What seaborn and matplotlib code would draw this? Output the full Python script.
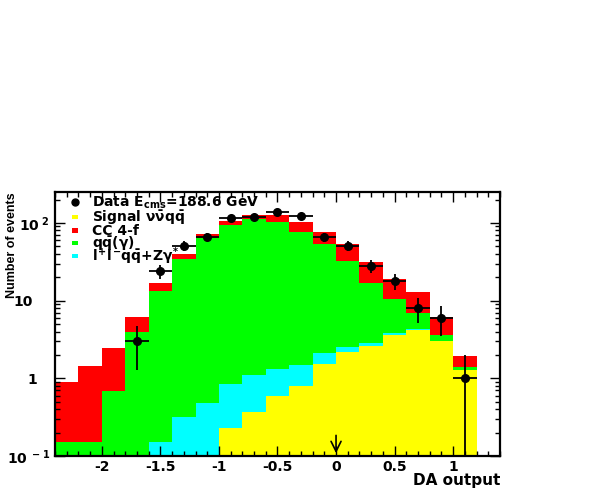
import numpy as np
import pandas as pd
import matplotlib
matplotlib.use("Agg")
import matplotlib.pyplot as plt
from matplotlib.patches import Rectangle
import seaborn as sns

# ---- data ----
bin_edges = [round(v, 2) for v in np.linspace(-2.4, 1.2, 19)]
bin_centers = [round((a + b) / 2, 2) for a, b in zip(bin_edges[:-1], bin_edges[1:])]

signal = [0, 0, 0, 0, 0, 0, 0, 0.227, 0.365, 0.59, 0.80, 1.54, 2.18, 2.61, 3.58, 4.19, 2.99, 1.27]
llqq = [0, 0, 0, 0, 0.15, 0.315, 0.477, 0.618, 0.735, 0.72, 0.68, 0.58, 0.35, 0.21, 0.22, 0.11, 0.01, 0.01]
qq = [0.15, 0.15, 0.69, 3.91, 13.05, 34.4, 64.0, 94.0, 109.9, 101.2, 75.6, 50.9, 29.8, 14.2, 6.7, 2.69, 0.6, 0.1]
cc4f = [0.75, 1.29, 1.79, 2.24, 3.5, 5.5, 7.4, 11.9, 16.6, 25.1, 26.5, 24.1, 21.7, 14.7, 8.3, 5.9, 2.55, 0.56]

data_x = [-1.7, -1.5, -1.3, -1.1, -0.9, -0.7, -0.5, -0.3, -0.1, 0.1, 0.3, 0.5, 0.7, 0.9, 1.1]
data_n = [3, 24, 51, 66, 116, 120, 139, 124, 65, 51, 28, 18, 8, 6, 1]

xtick_vals = [-2, -1.5, -1, -0.5, 0, 0.5, 1]
xtick_labels = ["-2", "-1.5", "-1", "-0.5", "0", "0.5", "1"]
ytick_vals = [0.1, 1, 10, 100]
ytick_labels = [r"10$^{\ -1}$", "1", "10", r"10$^{\ 2}$"]
ytick_pads = [3.5, 13, 16, 3.5]

legend_labels = [r"Data E$_{\rm cms}$=188.6 GeV", r"Signal $\nu\bar{\nu}q\bar{q}$", "CC 4-f",
                 r"$q\bar{q}(\gamma)$", r"$l^{+}l^{-}q\bar{q}$+Z$\gamma^{*}$"]
legend_keys = ["data", "signal", "cc", "qq", "llqq"]

colors = {"cc": "#ff0000", "qq": "#00ff00", "llqq": "#00ffff", "signal": "#ffff00"}

plt.rcParams["axes.unicode_minus"] = False
plt.rcParams["mathtext.fontset"] = "custom"
plt.rcParams["mathtext.rm"] = "DejaVu Sans:bold"
plt.rcParams["mathtext.it"] = "DejaVu Sans:bold"
plt.rcParams["mathtext.bf"] = "DejaVu Sans:bold"
plt.rcParams["font.family"] = ["DejaVu Sans"]

df = pd.DataFrame({
    "x": np.tile(bin_centers, 4),
    "w": np.concatenate([cc4f, qq, llqq, signal]),
    "comp": np.repeat(["cc", "qq", "llqq", "signal"], len(bin_centers)),
})

fig = plt.figure(figsize=(5.99, 4.91), dpi=100)
ax = fig.add_axes([0.0918, 0.0713, 0.7429, 0.5377])

sns.histplot(data=df, x="x", weights="w", hue="comp", hue_order=["cc", "qq", "llqq", "signal"],
             bins=bin_edges, multiple="stack", element="bars", palette=colors,
             linewidth=0, alpha=1, legend=False, ax=ax)

ax.set_yscale("log")
ax.set_ylim(0.1, 250)
ax.set_xlim(-2.4, 1.4)

n = np.array(data_n, dtype=float)
err = np.sqrt(n)
ax.errorbar(data_x, n, xerr=0.1, yerr=[np.minimum(err, n - 1e-9), err], fmt="o", color="black",
            ms=5.5, elinewidth=1.3, capsize=0, zorder=5)

ax.annotate("", xy=(0, 0.1), xytext=(0, 0.2),
            arrowprops=dict(arrowstyle="->", lw=1.2, color="black", mutation_scale=18))

ax.set_xticks(xtick_vals)
ax.set_xticklabels(xtick_labels, fontsize=10, fontweight="bold")
ax.xaxis.set_minor_locator(matplotlib.ticker.MultipleLocator(0.1))
ax.set_yticks(ytick_vals)
ax.set_yticklabels(ytick_labels, fontsize=10, fontweight="bold")
ax.tick_params(which="both", direction="in", top=True, right=True, labeltop=False, labelright=False, width=1)
ax.tick_params(which="major", length=7)
ax.tick_params(which="minor", length=3.5)
ax.tick_params(axis="x", pad=3)
for tk, p in zip(ax.yaxis.get_major_ticks(), ytick_pads):
    tk.set_pad(p)
for s in ax.spines.values():
    s.set_linewidth(1.6)
    s.set_color("black")

ax.set_xlabel("DA output", fontsize=11, fontweight="bold", ha="right")
ax.xaxis.set_label_coords(1.0, -0.066)
ax.set_ylabel("Number of events", fontsize=9, fontweight="bold", ha="right",
              family=["Liberation Sans Narrow", "DejaVu Sans Condensed", "Liberation Sans"])
ax.yaxis.set_label_coords(-0.083, 1.0)

# legend (manual, ROOT style: tight rows)
leg_y_base = [0.944, 0.887, 0.837, 0.789, 0.740]
leg_y_key = [0.963, 0.905, 0.855, 0.807, 0.758]
for key, lab, yb, yk in zip(legend_keys, legend_labels, leg_y_base, leg_y_key):
    if key == "data":
        ax.plot([0.0449], [yk], marker="o", color="black", ms=5, transform=ax.transAxes, clip_on=False)
    else:
        ax.add_patch(Rectangle((0.0449 - 0.0075, yk - 0.0085), 0.015, 0.017, facecolor=colors[key],
                               edgecolor="none", transform=ax.transAxes, zorder=6))
    ax.text(0.0823, yb, lab, transform=ax.transAxes, fontsize=10, fontweight="bold",
            va="baseline", ha="left", zorder=6)

fig.savefig("out.png", dpi=100)
